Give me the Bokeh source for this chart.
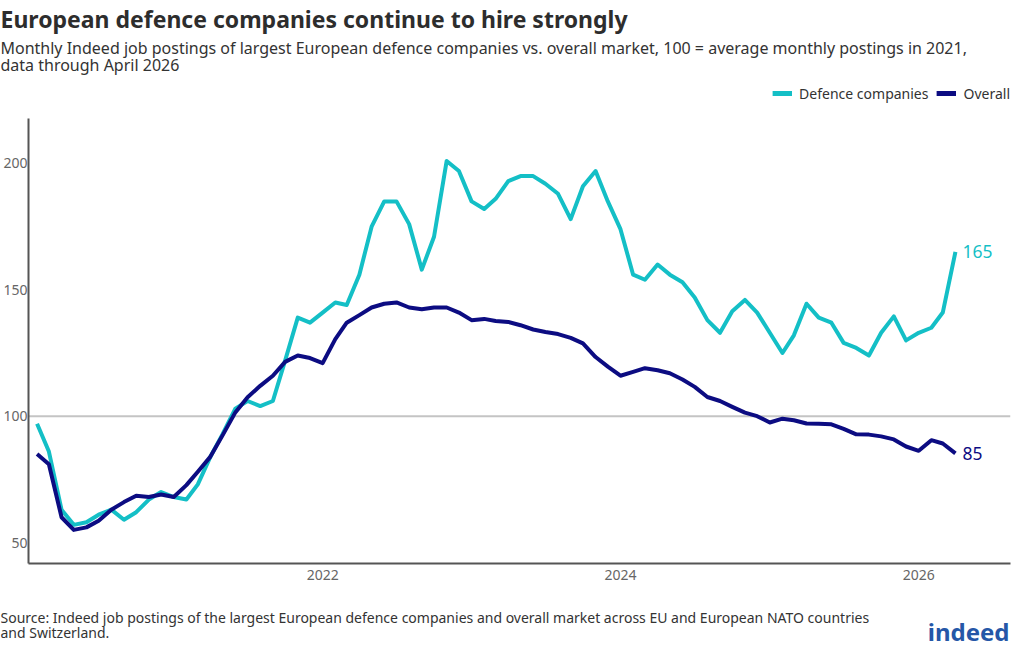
import pandas as pd
from bokeh.plotting import figure
from bokeh.layouts import column
from bokeh.models import (Label, Span, Legend, LegendItem, FixedTicker,
                          DatetimeTickFormatter, Range1d, ColumnDataSource)
from bokeh.core.properties import value
from bokeh.embed import file_html
from bokeh.resources import INLINE

# ---------------- data ----------------
start_month = "2020-02-01"
defence = [97, 86, 63, 57, 58, 61, 63, 59, 62, 67, 70,
           68, 67, 73, 84, 93, 103, 106, 104, 106, 122, 139, 137,
           141, 145, 144, 156, 175, 185, 185, 176, 158, 171, 201, 197,
           185, 182, 186, 193, 195, 195, 192, 188, 178, 191, 197, 185,
           174, 156, 154, 160, 156, 153, 147, 138, 133, 141.5, 146, 141,
           133, 125, 132, 144.5, 139, 137, 129, 127, 124, 133, 139.5, 130,
           133, 135, 141, 165]
overall = [85, 81, 60, 55, 56, 58.6, 63, 66, 68.5, 68, 69,
           68, 72.7, 78, 84, 92.5, 101.5, 107.5, 112, 116, 121.5, 124, 123,
           121, 130.5, 137, 140, 143, 144.5, 145, 143, 142.3, 143, 143, 141,
           138, 138.5, 137.7, 137.3, 136, 134.3, 133.3, 132.5, 131, 128.8, 123.4, 119.6,
           116, 117.5, 119, 118.2, 117, 114.5, 111.6, 107.6, 106, 103.7, 101.4, 100,
           97.5, 99, 98.4, 97.1, 97, 96.8, 95, 92.8, 92.7, 92, 90.8, 88,
           86.3, 90.5, 89.2, 85.3]
series_names = ["Defence companies", "Overall"]
year_ticks = ["2022-01-01", "2024-01-01", "2026-01-01"]
y_ticks = [50, 100, 150, 200]

dates = pd.date_range(start_month, periods=len(defence), freq="MS")

CYAN = "#14bfc6"
NAVY = "#0c0c82"
FONT = "Noto Sans"
TXT = "#333333"

W = 1024
HEAD_H, MAIN_H, FOOT_H = 117, 483, 52


def blank(h):
    f = figure(width=W, height=h, output_backend="svg", toolbar_location=None,
               x_range=Range1d(0, 1), y_range=Range1d(0, 1),
               x_axis_location=None, y_axis_location=None,
               min_border=0, min_border_left=0, min_border_right=0,
               min_border_top=0, min_border_bottom=0)
    f.frame_align = False
    f.outline_line_color = None
    f.grid.grid_line_color = None
    f.border_fill_color = "white"
    f.background_fill_color = "white"
    return f


def txt(f, text, x, y, size, color=TXT, style="normal", align="left"):
    f.add_layout(Label(x=x, y=y, x_units="screen", y_units="screen", text=text,
                       text_font=FONT, text_font_size=size, text_color=color,
                       text_font_style=style, text_baseline="alphabetic",
                       text_align=align))


# ---------------- header ----------------
head = blank(HEAD_H)
txt(head, "European defence companies continue to hire strongly", 0, HEAD_H - 18,
    "23px", color="#2d2d2d", style="bold")
txt(head, "Monthly Indeed job postings of largest European defence companies vs. overall "
    "market, 100 = average monthly postings in 2021,", 0, HEAD_H - 47, "16px")
txt(head, "data through April 2026", 0, HEAD_H - 64, "16px")
# legend swatch renderers: series values lie outside this figure's 0..1 range
idx = list(range(len(defence)))
lg_def = head.line(x=idx, y=defence, line_color=CYAN, line_width=5)
lg_ov = head.line(x=idx, y=overall, line_color=NAVY, line_width=5)
legend = Legend(items=[LegendItem(label=series_names[0], renderers=[lg_def]),
                       LegendItem(label=series_names[1], renderers=[lg_ov])],
                orientation="horizontal", location="bottom_right",
                padding=0, spacing=8, margin=14, label_standoff=7,
                glyph_width=20, glyph_height=20,
                label_text_font=FONT, label_text_font_size="14px",
                label_text_color=TXT, border_line_color=None,
                background_fill_alpha=0)
head.add_layout(legend, "center")

# ---------------- main chart ----------------
p = figure(width=W, height=MAIN_H, x_axis_type="datetime", output_backend="svg",
           toolbar_location=None,
           x_range=Range1d(pd.Timestamp("2020-01-11"), pd.Timestamp("2026-08-14")),
           y_range=Range1d(41.7, 217.8),
           min_border_left=28, min_border_right=14, min_border_top=1,
           min_border_bottom=37)
p.frame_align = False
p.outline_line_color = None
p.grid.grid_line_color = None

for ax in (p.xaxis[0], p.yaxis[0]):
    ax.axis_line_color = "#555555"
    ax.axis_line_width = 2
    ax.major_tick_line_color = None
    ax.minor_tick_line_color = None
    ax.major_tick_out = 0
    ax.major_tick_in = 0
    ax.minor_tick_out = 0
    ax.minor_tick_in = 0
    ax.major_label_text_font = FONT
    ax.major_label_text_font_size = "14px"
    ax.major_label_text_color = "#666666"

p.yaxis[0].ticker = FixedTicker(ticks=y_ticks)
p.yaxis[0].major_label_standoff = 1
p.xaxis[0].ticker = FixedTicker(ticks=[pd.Timestamp(t).value / 1e6 for t in year_ticks])
p.xaxis[0].formatter = DatetimeTickFormatter(years="%Y", months="%Y", days="%Y")
p.xaxis[0].major_label_standoff = 6

p.add_layout(Span(location=100, dimension="width", line_color="#c4c4c4",
                  line_width=2, level="underlay"))

src = ColumnDataSource(dict(x=dates, d=defence, o=overall))
p.line("x", "d", source=src, line_color=CYAN, line_width=4, line_join="round")
p.line("x", "o", source=src, line_color=NAVY, line_width=4, line_join="round")

end_src = ColumnDataSource(dict(x=[dates[-1], dates[-1]],
                                y=[defence[-1], overall[-1]],
                                t=[f"{defence[-1]:.0f}", f"{overall[-1]:.0f}"],
                                c=[CYAN, NAVY]))
p.text("x", "y", text="t", source=end_src, text_color="c", x_offset=7,
       text_baseline="middle", text_font=value(FONT), text_font_size="17.5px")

# ---------------- footer ----------------
foot = blank(FOOT_H)
txt(foot, "Source: Indeed job postings of the largest European defence companies and "
    "overall market across EU and European NATO countries", 0, FOOT_H - 17, "14px")
txt(foot, "and Switzerland.", 0, FOOT_H - 32, "14px")
txt(foot, "indeed", 1009, FOOT_H - 31, "24px", color="#2557a7", style="bold",
    align="right")

layout = column(head, p, foot, spacing=0)
open("out.html", "w").write(file_html(layout, INLINE))
